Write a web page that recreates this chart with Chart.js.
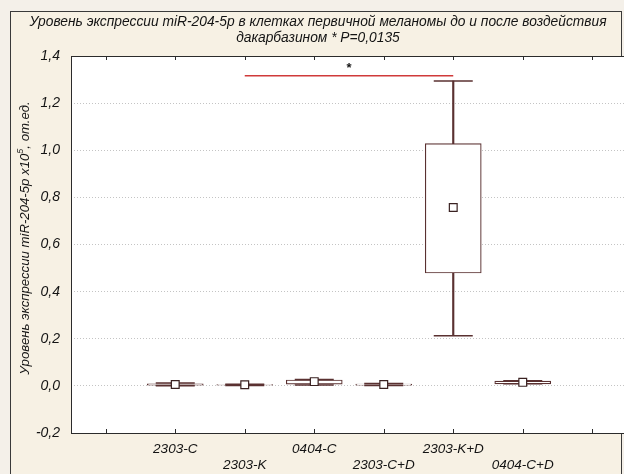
<!DOCTYPE html>
<html>
<head>
<meta charset="utf-8">
<script src="https://cdn.jsdelivr.net/npm/chart.js@4.4.1/dist/chart.umd.min.js"></script>
<style>
  html, body { margin: 0; padding: 0; background: #f4f0e9; overflow: hidden; }
  #wrap { width: 632px; height: 474px; }
</style>
</head>
<body>
<div id="wrap"><canvas id="c" width="632" height="474"></canvas></div>
<script>
// Groups and box-plot statistics (relative units, x10^5)
const categories  = ['2303-C', '2303-K', '0404-C', '2303-C+D', '2303-K+D', '0404-C+D'];
const whiskerLow  = [0.001, 0.002, 0.004, 0.002, 0.213, 0.009];
const boxLow      = [0.003, 0.003, 0.007, 0.003, 0.479, 0.008];
const boxHigh     = [0.009, 0.006, 0.025, 0.008, 1.028, 0.020];
const whiskerHigh = [0.012, 0.007, 0.027, 0.010, 1.294, 0.022];
const centerValue = [0.006, 0.005, 0.018, 0.006, 0.757, 0.015];
const yTicks      = [-0.2, 0, 0.2, 0.4, 0.6, 0.8, 1.0, 1.2, 1.4];
const xTickPositions = [1, 2, 3, 4, 5, 6, 7, 8];
// significance bracket between 2303-K and 2303-K+D
const sigFrom = '2303-K', sigTo = '2303-K+D', sigLevel = 1.316, sigMark = '*';

const titleLines = [
  'Уровень экспрессии miR-204-5p в клетках первичной меланомы до и после воздействия',
  'дакарбазином * P=0,0135'
];
const yTitleParts = ['Уровень экспрессии miR-204-5p x10', '5', ', от.ед.'];

const pos = i => i + 2;               // category i sits at x = i + 2
const posOf = name => pos(categories.indexOf(name));
const INK = '#5a3131';
const FONT = '"Liberation Sans", Arial, sans-serif';

const boxes = categories.map((c, i) => ({ x: pos(i), y: [boxLow[i], boxHigh[i]] }));
const stemsLow = categories.map((c, i) => ({ x: pos(i), y: [whiskerLow[i], boxLow[i]] }));
const stemsHigh = categories.map((c, i) => ({ x: pos(i), y: [boxHigh[i], whiskerHigh[i]] }));
const caps = categories.flatMap((c, i) => [{ x: pos(i), y: whiskerLow[i] }, { x: pos(i), y: whiskerHigh[i] }]);
const centers = categories.map((c, i) => ({ x: pos(i), y: centerValue[i] }));
const sigLine = [{ x: posOf(sigFrom), y: sigLevel }, { x: posOf(sigTo), y: sigLevel }];

const decor = {
  id: 'decor',
  beforeDraw(chart) {
    const { ctx, chartArea: a } = chart;
    ctx.save();
    ctx.fillStyle = '#f4f0e9';
    ctx.fillRect(0, 0, chart.width, chart.height);
    // frame
    ctx.fillStyle = '#f7f1e4';
    ctx.fillRect(10, 11, 612, 470);
    ctx.strokeStyle = '#3a3a3a';
    ctx.lineWidth = 1;
    ctx.strokeRect(10.5, 11.5, 611, 480);
    // plot area
    ctx.fillStyle = '#ffffff';
    ctx.fillRect(a.left, a.top, a.right - a.left, a.bottom - a.top);
    ctx.restore();
  },
  afterDraw(chart) {
    const { ctx, chartArea: a, scales } = chart;
    ctx.save();
    // plot border
    ctx.strokeStyle = '#2b2b2b';
    ctx.lineWidth = 1;
    ctx.strokeRect(Math.round(a.left) + 0.5, Math.round(a.top) + 0.5, a.right - a.left, Math.round(a.bottom - a.top));
    // inward tick marks on top and bottom edges
    ctx.beginPath();
    xTickPositions.forEach(v => {
      const px = Math.round(scales.x.getPixelForValue(v)) + 0.5;
      ctx.moveTo(px, a.bottom); ctx.lineTo(px, a.bottom - 4);
      ctx.moveTo(px, a.top); ctx.lineTo(px, a.top + 4);
    });
    ctx.stroke();
    // title
    ctx.fillStyle = '#141414';
    ctx.textAlign = 'center';
    ctx.textBaseline = 'middle';
    ctx.font = 'italic 13.8px ' + FONT;
    ctx.fillText(titleLines[0], 318, 22);
    ctx.fillText(titleLines[1], 318, 38);
    // significance mark
    const sx = (scales.x.getPixelForValue(posOf(sigFrom)) + scales.x.getPixelForValue(posOf(sigTo))) / 2;
    ctx.font = 'bold 13px ' + FONT;
    ctx.fillText(sigMark, sx, scales.y.getPixelForValue(sigLevel) - 7);
    // rotated y-axis title with superscript
    ctx.translate(25, 238);
    ctx.rotate(-Math.PI / 2);
    const big = 'italic 13.2px ' + FONT, small = 'italic 9px ' + FONT;
    ctx.font = big; const w1 = ctx.measureText(yTitleParts[0]).width;
    const w3 = ctx.measureText(yTitleParts[2]).width;
    ctx.font = small; const w2 = ctx.measureText(yTitleParts[1]).width;
    let x0 = -(w1 + w2 + w3) / 2;
    ctx.textAlign = 'left';
    ctx.font = big; ctx.fillText(yTitleParts[0], x0, 0);
    ctx.font = small; ctx.fillText(yTitleParts[1], x0 + w1, -5);
    ctx.font = big; ctx.fillText(yTitleParts[2], x0 + w1 + w2, 0);
    ctx.restore();
  }
};

new Chart(document.getElementById('c'), {
  type: 'bar',
  data: {
    datasets: [
      { type: 'bar', data: stemsLow, backgroundColor: INK, borderWidth: 0, barThickness: 1.5, grouped: false, order: 4 },
      { type: 'bar', data: stemsHigh, backgroundColor: INK, borderWidth: 0, barThickness: 1.5, grouped: false, order: 4 },
      { type: 'bar', data: boxes, backgroundColor: '#ffffff', borderColor: INK, borderWidth: 1.2,
        borderSkipped: false, barThickness: 56, grouped: false, order: 3 },
      { type: 'scatter', data: caps, pointStyle: 'line', pointRadius: 19.5, borderColor: INK,
        borderWidth: 1.6, order: 2 },
      { type: 'scatter', data: centers, pointStyle: 'rect', pointRadius: 5.5, backgroundColor: '#ffffff',
        borderColor: '#3a2222', borderWidth: 1.2, order: 1 },
      { type: 'line', data: sigLine, borderColor: '#d03a3a', borderWidth: 1.5, pointRadius: 0, order: 0 }
    ]
  },
  options: {
    responsive: false,
    animation: false,
    layout: { autoPadding: false, padding: { top: 56, right: 5, left: 0, bottom: 0 } },
    plugins: { legend: { display: false }, tooltip: { enabled: false }, title: { display: false } },
    scales: {
      x: {
        type: 'linear', min: 0.5, max: 8.5, offset: false,
        afterBuildTicks: s => { s.ticks = xTickPositions.map(v => ({ value: v })); },
        afterFit: s => { s.height = 41; s.paddingLeft = 0; s.paddingRight = 0; },
        grid: { display: false, drawTicks: false, offset: false },
        border: { display: false },
        ticks: {
          padding: 8, autoSkip: false, maxRotation: 0, color: '#141414',
          font: { family: FONT, size: 13.5, style: 'italic', lineHeight: 1.2 },
          callback: v => {
            const i = v - 2;
            if (i < 0 || i >= categories.length) return '';
            return i % 2 === 0 ? [categories[i]] : ['', categories[i]];
          }
        }
      },
      y: {
        min: -0.2, max: 1.4,
        afterBuildTicks: s => { s.ticks = yTicks.map(v => ({ value: v })); },
        afterFit: s => { s.width = 71; s.paddingTop = 0; s.paddingBottom = 0; },
        grid: { color: '#c4c4c4', lineWidth: 1, drawTicks: false },
        border: { display: false, dash: [1, 2] },
        ticks: {
          padding: 11, color: '#141414',
          font: { family: FONT, size: 14, style: 'italic' },
          callback: v => v.toFixed(1).replace('.', ',')
        }
      }
    }
  },
  plugins: [decor]
});
</script>
</body>
</html>
